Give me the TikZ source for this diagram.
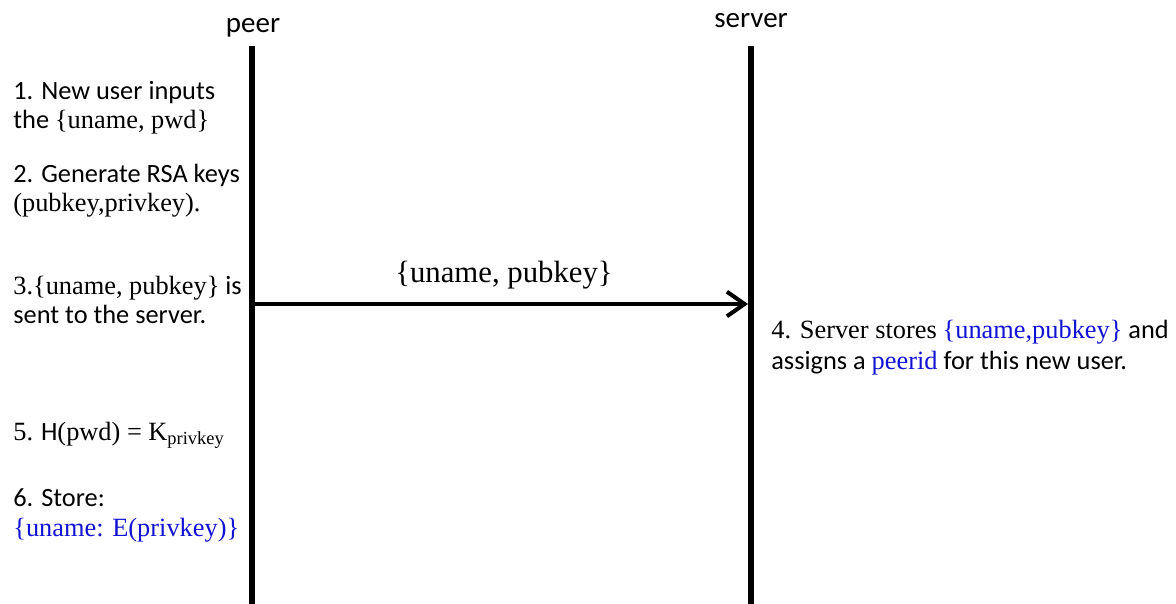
\documentclass[tikz,border=0pt]{standalone}
\usepackage{fontspec}
\setmainfont{Liberation Serif}
\newfontfamily\calfont{Carlito}
\usepackage{tikz}
\usetikzlibrary{arrows.meta,positioning}
\definecolor{keyblue}{RGB}{18,18,210}
\newcommand{\tmtext}[1]{{\rmfamily #1}}
\newcommand{\keytext}[1]{{\rmfamily\color{keyblue}#1}}

\begin{document}
\begin{tikzpicture}[x=0.02cm, y=-0.02cm,
    % Actors and lifelines
    actor/.style={font=\calfont\fontsize{16.5}{19}\selectfont, anchor=base, inner sep=0pt},
    lifeline/.style={line width=3.4pt},
    % Messages
    message/.style={line width=2.3pt, -{Straight Barb[length=10pt,width=14pt,line width=2.3pt]}},
    msglabel/.style={font=\fontsize{17.5}{20}\selectfont, anchor=base, inner sep=0pt},
    % Step notes (base = last line)
    stepnote/.style={font=\calfont\fontsize{15}{17}\selectfont, align=left, anchor=base west, inner sep=0pt}
]

\useasboundingbox (0,0) rectangle (1176,604);

% Actors
\node[actor] (peer) at (253,33) {peer};
\node[actor] (server) at (751,28) {server};

% Lifelines
\coordinate (peertop) at (252,46);
\coordinate (peerbot) at (252,604);
\coordinate (servertop) at (751,46);
\coordinate (serverbot) at (751,604);
\draw[lifeline] (peertop) -- (peerbot);
\draw[lifeline] (servertop) -- (serverbot);

% Message peer -> server
\coordinate (sendfrom) at (252,304);
\coordinate (sendto) at (748,304);
\draw[message] (sendfrom) -- (sendto);
\node[msglabel] (sendlabel) at (504,283) {\{uname, pubkey\}};

% Peer side steps
\node[stepnote] (step1) at (13,129) {1. New user inputs\\the \tmtext{\{uname, pwd\}}};
\node[stepnote] (step2) at (13,212) {2. Generate RSA keys\\\tmtext{(pubkey,privkey).}};
\node[stepnote] (step3) at (13,324) {\tmtext{3.\{uname, pubkey\}} is\\sent to the server.};
\node[stepnote] (step5) at (13,440) {\tmtext{5.} H\tmtext{(pwd) = K\textsubscript{privkey}}};
\node[stepnote] (step6) at (13,536) {6. Store:\\\keytext{\{uname: E(privkey)\}}};

% Server side step
\node[stepnote, font=\calfont\fontsize{15}{18}\selectfont] (step4) at (771,370) {\tmtext{4. Server stores} \keytext{\{uname,pubkey\}} and\\assigns a \keytext{peerid} for this new user.};

\end{tikzpicture}
\end{document}
